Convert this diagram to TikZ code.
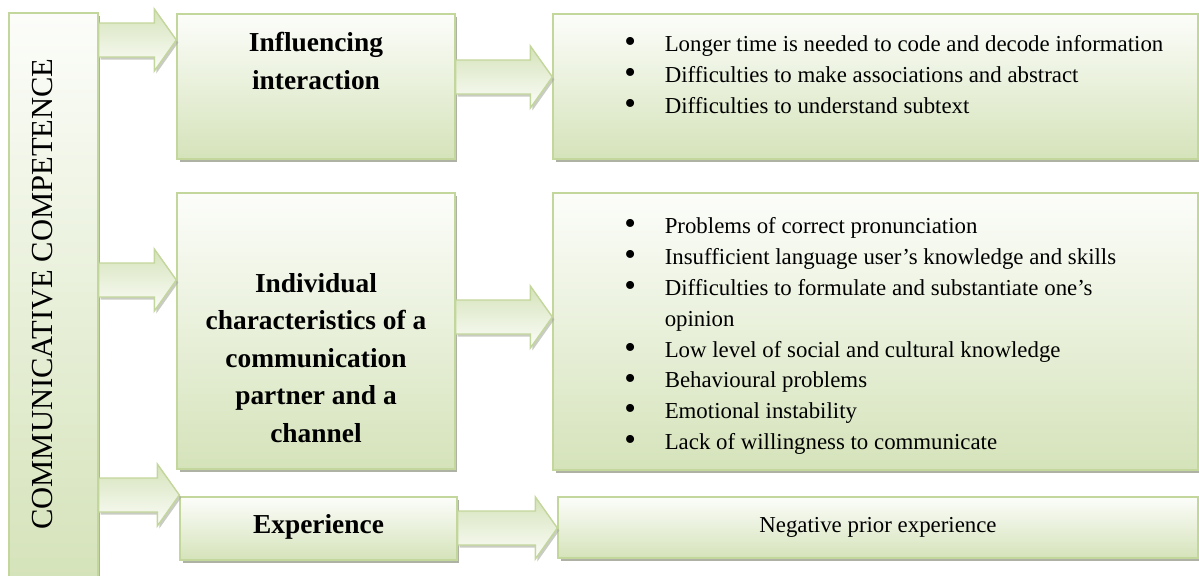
\documentclass[tikz,border=0pt]{standalone}
\usepackage{fontspec}
\setmainfont{Liberation Serif}
\usepackage{xcolor}
\usepackage{tikz}
\usetikzlibrary{shadows, calc}
\definecolor{boxgreen}{RGB}{213, 227, 186}
\definecolor{boxtop}{RGB}{252, 253, 250}
\definecolor{edgegreen}{RGB}{195, 214, 155}
\definecolor{shadowgray}{RGB}{165, 170, 155}
\newcommand{\itembul}{\makebox[23pt][l]{\raisebox{-0.6pt}{\fontsize{19}{0}\selectfont\textbullet}}}

\begin{document}
\begin{tikzpicture}[
    x=0.02cm, y=-0.02cm,
    panel/.style={
        rectangle,
        draw=edgegreen,
        line width=0.8pt,
        top color=boxtop,
        bottom color=boxgreen,
        inner sep=0pt,
        drop shadow={shadow xshift=0.05cm, shadow yshift=-0.06cm, fill=shadowgray, opacity=0.9}
    },
    headtext/.style={
        font=\fontsize{15.6}{21.3}\selectfont\bfseries,
        align=center,
        inner sep=0pt
    },
    itemtext/.style={
        font=\fontsize{13}{17.6}\selectfont,
        align=left,
        inner sep=0pt
    },
    blockarr/.style={
        draw=edgegreen,
        line width=0.8pt,
        top color=boxgreen,
        bottom color=boxtop,
        drop shadow={shadow xshift=0.04cm, shadow yshift=-0.05cm, fill=shadowgray, opacity=0.6}
    }
]
    \useasboundingbox (0,0) rectangle (1199,575);

    % Left column
    \node[panel, minimum width=1.78cm, minimum height=11.32cm] (col) at (53.5,296) {};
    \node[rotate=90, inner sep=0pt, font=\fontsize{17.4}{20}\selectfont] (coltext) at (43,294) {COMMUNICATIVE COMPETENCE};

    % Factors
    \node[panel, minimum width=5.56cm, minimum height=2.9cm] (infl) at (316,86.5) {};
    \node[panel, minimum width=5.56cm, minimum height=5.52cm] (indiv) at (316,331) {};
    \node[panel, minimum width=5.54cm, minimum height=1.26cm] (exper) at (318.5,528.5) {};

    \node[headtext] (infltext) at (316,61) {Influencing\\interaction};
    \node[headtext] (indivtext) at (316,358) {Individual\\characteristics of a\\communication\\partner and a\\channel};
    \node[headtext] (expertext) at (318.5,527) {Experience};

    % Difficulties
    \node[panel, minimum width=12.9cm, minimum height=2.9cm] (bul1) at (875.5,86.5) {};
    \node[panel, minimum width=12.9cm, minimum height=5.54cm] (bul2) at (875.5,331.5) {};
    \node[panel, minimum width=12.8cm, minimum height=1.22cm] (neg) at (878,527.5) {};

    \node[itemtext, anchor=west] (list1) at (624,75) {\itembul Longer time is needed to code and decode information\\
        \itembul Difficulties to make associations and abstract\\
        \itembul Difficulties to understand subtext};
    \node[itemtext, anchor=west] (list2) at (624,336) {\itembul Problems of correct pronunciation\\
        \itembul Insufficient language user’s knowledge and skills\\
        \itembul Difficulties to formulate and substantiate one’s\\
        \hspace*{23pt}opinion\\
        \itembul Low level of social and cultural knowledge\\
        \itembul Behavioural problems\\
        \itembul Emotional instability\\
        \itembul Lack of willingness to communicate};
    \node[itemtext] (negtext) at (878,527) {Negative prior experience};

    % Arrows
    \foreach \a/\b/\y in {col/infl/40, infl/bul1/77, col/indiv/280, indiv/bul2/317, col/exper/495, exper/neg/528}{
        \coordinate (ay) at (0,\y);
        \coordinate (ast) at (\a.east |- ay);
        \coordinate (atip) at (\b.west |- ay);
        \draw[blockarr] ($(ast)+(0,-17)$) -- ($(atip)+(-22,-17)$) -- ($(atip)+(-22,-31)$) -- (atip)
            -- ($(atip)+(-22,31)$) -- ($(atip)+(-22,17)$) -- ($(ast)+(0,17)$) -- cycle;
    }
\end{tikzpicture}
\end{document}
